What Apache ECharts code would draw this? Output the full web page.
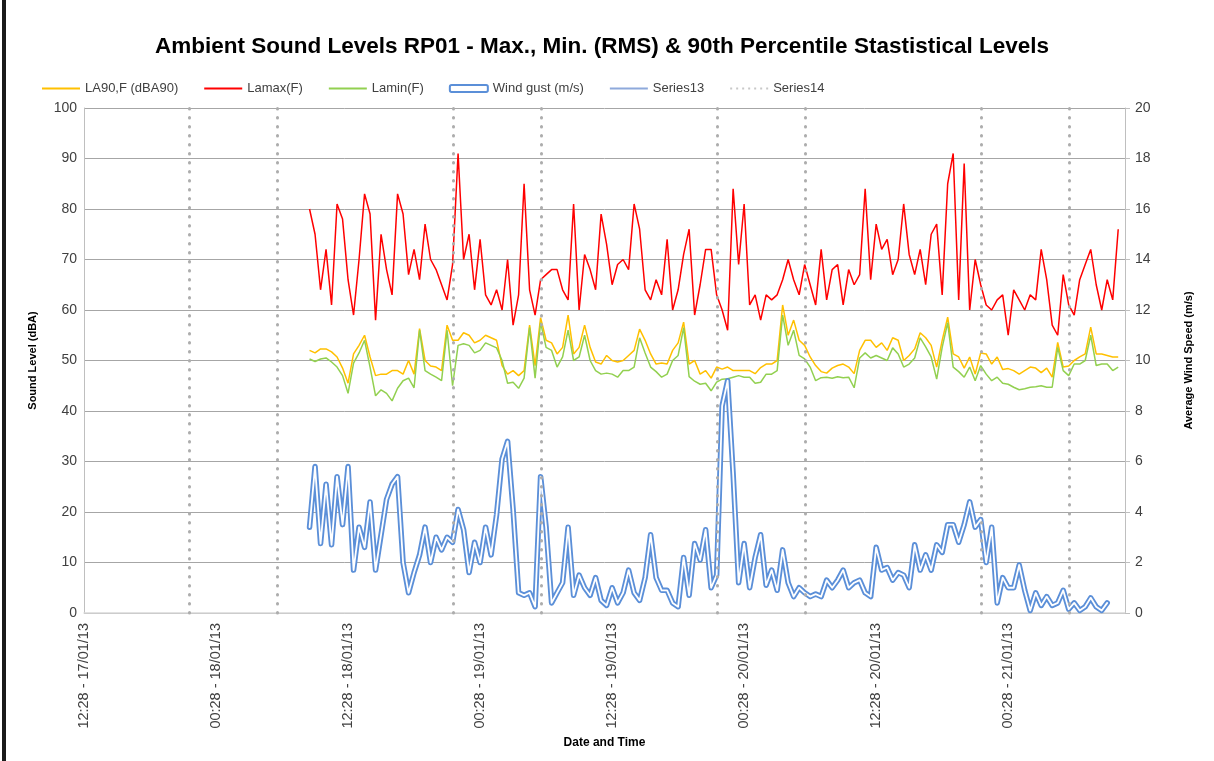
<!DOCTYPE html>
<html>
<head>
<meta charset="utf-8">
<title>Ambient Sound Levels RP01</title>
<script src="https://cdn.jsdelivr.net/npm/echarts@6/dist/echarts.min.js"></script>
<style>
html,body{margin:0;padding:0;background:#fff;}
#main{width:1214px;height:761px;}
</style>
</head>
<body>
<div id="main"></div>
<script>
/********************* 数据 *********************/
var HOUR = 3600000;
var axisStart = Date.UTC(2013, 0, 17, 12, 28);   // 12:28 - 17/01/13
var axisEnd = Date.UTC(2013, 0, 21, 11, 5);
var firstSample = Date.UTC(2013, 0, 18, 8, 58);   // half-hour samples from here
var sampleStep = 0.5 * HOUR;

// LA90,F (dBA90)
var la90 = [52,51.5,52.3,52.3,51.7,50.7,48.5,45.5,51.3,53,55,50.7,47,47.3,47.3,48,48,47.3,50,47.3,56.3,50,48.9,48.7,48,57,54,54,55.5,55,53.5,54,55,54.5,54,49,47.3,
	48,47,48,57,49,58.5,54,53.5,51.3,52.6,59,51.3,52.6,57,52.6,49.7,49.3,51,50,49.7,50,51,52,56.2,54,51.3,49.3,49.5,49.3,52,53.5,57.6,49.3,50,47.3,
	48,46.5,48.7,48.3,48.7,48,48,48,48,47.4,48.6,49.3,49.3,50,61,55,58,54,53,50.7,49,47.8,47.5,48.5,49,49.3,48.7,47.4,52,54,54,52.6,53.5,52,54.5,54,
	50,51,52.3,55.5,54.5,53,48.7,54,58.6,51.3,50.7,48.5,50.7,47.3,51.5,51.3,49.3,50.7,48.2,48.4,48,47.3,48,48.7,48.5,47.6,48.5,46.7,53.6,48.7,48.9,50,50.7,51.3,56.6,51.3,51.3,51,50.7,50.7];

// Lamax(F)
var lamax = [80,75,64,72,61,81,78,66,59,70,83,79,58,75,68,63,83,79,67,72,66,77,70,68,65,62,69,91,70,75,64,74,63,61,64,60,70,
	57,63,85,64,59,66,67,68,68,64,62,81,60,71,68,64,79,73,65,69,70,68,81,76,64,62,66,63,74,60,64,71,76,59,65,
	72,72,63,60,56,84,69,81,61,63,58,63,62,63,66,70,66,63,69,65,61,72,62,68,69,61,68,65,67,84,66,77,72,74,67,70,
	81,71,67,72,65,75,77,63,85,91,62,89,60,70,65,61,60,62,63,55,64,62,60,63,62,72,66,57,55,67,61,59,66,69,72,65,60,66,62,76];

// Lamin(F)
var lamin = [50.3,49.8,50.3,50.5,49.7,48.7,47,43.5,49.5,51.5,54,48.7,43,44.2,43.5,42,44.5,46,46.5,44.6,56,48,47.3,46.7,46,56,45,53,53.3,53,51.5,52,53.5,53,52.5,50,45.5,
	45.7,44.5,46.5,56.5,46.5,57.5,52.6,52,48.7,50.7,56,50,50.7,55,50,48,47.3,47.5,47.3,46.7,48,48,48.7,54.5,51.5,48.7,47.8,46.7,47.3,50,51,56.5,46.8,45.9,45.3,
	45.5,44,45.7,46.3,46.4,46.7,47,46.7,46.7,45.5,45.7,47.3,47.3,48,59,53,56,51,50.3,48.7,46,46.6,46.7,46.5,46.8,46.6,46.7,44.6,50.5,51.5,50.5,51,50.5,50,52.5,51.3,
	48.7,49.3,50.5,54.5,52.7,50.7,46.3,52.6,57.5,48.7,47.8,46.7,48.7,46,49,47.3,46,46.7,45.5,45.3,44.7,44.2,44.4,44.7,44.8,45,44.7,44.7,52.6,48,47,49.3,49.3,50,55,49,49.3,49.3,48,48.7];

// Wind gust (m/s)
var windGust = [3.4,5.8,2.75,5.1,2.7,5.4,3.5,5.8,1.7,3.4,2.6,4.4,1.7,3.1,4.5,5.1,5.4,2.0,0.8,1.6,2.3,3.4,2.0,3.0,2.5,3.0,2.8,4.1,3.3,1.6,2.8,2.0,3.4,2.3,3.9,6.1,6.8,
	4.1,0.8,0.7,0.8,0.25,5.4,3.4,0.4,0.8,1.2,3.4,0.7,1.5,1.0,0.7,1.4,0.5,0.3,1.0,0.4,0.8,1.7,0.8,0.5,1.4,3.1,1.4,0.9,0.9,0.4,0.25,2.2,0.7,2.75,2.1,
	3.3,1.0,1.5,8.2,9.2,5.5,1.2,2.75,1.0,2.2,3.1,1.1,1.7,0.9,2.5,1.2,0.65,1.0,0.8,0.65,0.75,0.65,1.3,1.0,1.3,1.7,1.0,1.2,1.3,0.8,0.65,2.6,1.7,1.8,1.3,1.6,
	1.5,1.0,2.7,1.7,2.3,1.7,2.7,2.4,3.5,3.5,2.8,3.5,4.4,3.4,3.7,2.0,3.4,0.4,1.4,1.0,1.0,1.9,0.9,0.1,0.8,0.3,0.65,0.3,0.4,0.9,0.15,0.4,0.1,0.25,0.6,0.25,0.1,0.4];

// Series14 - night time markers (22:00 / 06:00)
var nightLines = [
	Date.UTC(2013, 0, 17, 22, 0), Date.UTC(2013, 0, 18, 6, 0),
	Date.UTC(2013, 0, 18, 22, 0), Date.UTC(2013, 0, 19, 6, 0),
	Date.UTC(2013, 0, 19, 22, 0), Date.UTC(2013, 0, 20, 6, 0),
	Date.UTC(2013, 0, 20, 22, 0), Date.UTC(2013, 0, 21, 6, 0)
];

/********************* 图表 *********************/
function pad(n){ return ('0' + n).slice(-2); }
function fmtTime(v){
	var d = new Date(v);
	return pad(d.getUTCHours()) + ':' + pad(d.getUTCMinutes()) + ' - ' +
		pad(d.getUTCDate()) + '/' + pad(d.getUTCMonth() + 1) + '/' + String(d.getUTCFullYear()).slice(2);
}
function pairs(arr){
	var res = [];
	for (var i = 0; i < arr.length; i++) {
		res.push([firstSample + i * sampleStep, arr[i]]);
	}
	return res;
}

var FONT = '"Liberation Sans", Arial, sans-serif';
var windColor = '#5B8FD8';
var labelColor = '#404040';

var myChart = echarts.init(document.getElementById('main'));
var option = {
	backgroundColor: '#fff',
	animation: false,
	graphic: [
		// dark frame edge on the left of the screenshot
		{type: 'rect', left: 2, top: 0, shape: {width: 4, height: 761}, style: {fill: '#1a1a1a'}, silent: true}
	],
	title: {
		text: 'Ambient Sound Levels RP01 - Max., Min. (RMS) & 90th Percentile Stastistical Levels',
		left: 150,
		top: 30,
		textStyle: {fontFamily: FONT, fontSize: 22.5, fontWeight: 'bold', color: '#000'}
	},
	legend: {
		left: 36,
		top: 77,
		itemWidth: 38,
		itemHeight: 7,
		itemGap: 25,
		textStyle: {fontFamily: FONT, fontSize: 13, color: labelColor},
		itemStyle: {opacity: 0},
		data: [
			'LA90,F (dBA90)', 'Lamax(F)', 'Lamin(F)',
			{name: 'Wind gust (m/s)', icon: 'roundRect', itemStyle: {opacity: 1, color: '#fff', borderColor: windColor, borderWidth: 2}},
			'Series13', 'Series14'
		]
	},
	grid: {left: 84, right: 89, top: 108, bottom: 148},
	xAxis: {
		type: 'value',
		min: axisStart,
		max: axisEnd,
		interval: 12 * HOUR,
		name: 'Date and Time',
		nameLocation: 'middle',
		nameGap: 122,
		nameTextStyle: {fontFamily: FONT, fontSize: 12, fontWeight: 'bold', color: '#000'},
		axisLine: {lineStyle: {color: '#D9D9D9', width: 1.5}},
		axisTick: {show: false},
		splitLine: {show: false},
		axisLabel: {
			rotate: 90,
			margin: 10,
			showMaxLabel: false,
			fontFamily: FONT, fontSize: 14.5, color: labelColor,
			formatter: fmtTime
		}
	},
	yAxis: [
		{
			type: 'value', min: 0, max: 100, interval: 10,
			name: 'Sound Level (dBA)',
			nameLocation: 'middle', nameRotate: 90, nameGap: 46,
			nameTextStyle: {fontFamily: FONT, fontSize: 11, fontWeight: 'bold', color: '#000'},
			axisLine: {show: true, lineStyle: {color: '#BFBFBF'}},
			axisTick: {show: false},
			axisLabel: {fontFamily: FONT, fontSize: 14, color: labelColor, margin: 7},
			splitLine: {lineStyle: {color: '#A6A6A6', width: 1}}
		},
		{
			type: 'value', min: 0, max: 20, interval: 2,
			name: 'Average Wind Speed (m/s)',
			nameLocation: 'middle', nameRotate: 90, nameGap: 58,
			nameTextStyle: {fontFamily: FONT, fontSize: 11, fontWeight: 'bold', color: '#000'},
			axisLine: {show: true, lineStyle: {color: '#BFBFBF'}},
			axisTick: {show: true, length: 5, lineStyle: {color: '#BFBFBF'}},
			axisLabel: {fontFamily: FONT, fontSize: 14, color: labelColor, margin: 10},
			splitLine: {show: false}
		}
	],
	series: [
		{
			name: 'LA90,F (dBA90)', type: 'line', showSymbol: false, symbol: 'none',
			color: '#FFC000', lineStyle: {width: 1.5, color: '#FFC000'},
			data: pairs(la90)
		},
		{
			name: 'Lamax(F)', type: 'line', showSymbol: false, symbol: 'none',
			color: '#FF0000', lineStyle: {width: 1.5, color: '#FF0000'},
			data: pairs(lamax)
		},
		{
			name: 'Lamin(F)', type: 'line', showSymbol: false, symbol: 'none',
			color: '#92D050', lineStyle: {width: 1.5, color: '#92D050'},
			data: pairs(lamin)
		},
		{
			name: 'Wind gust (m/s)', type: 'line', yAxisIndex: 1, showSymbol: false, symbol: 'none',
			color: windColor, lineStyle: {width: 5.5, color: windColor, join: 'round', cap: 'round'},
			data: pairs(windGust)
		},
		{
			// white core of the double line
			name: 'Wind gust core', type: 'line', yAxisIndex: 1, showSymbol: false, symbol: 'none', silent: true,
			color: '#fff', lineStyle: {width: 1.8, color: '#fff', join: 'round', cap: 'round'},
			data: pairs(windGust)
		},
		{
			name: 'Series13', type: 'line', yAxisIndex: 1, symbol: 'none',
			color: '#8EA9DB', lineStyle: {width: 3, color: '#8EA9DB'},
			data: []
		},
		{
			name: 'Series14', type: 'line', symbol: 'none',
			color: '#BFBFBF', lineStyle: {width: 2, color: '#C8C8C8', type: [2, 4]},
			data: [],
			markLine: {
				silent: true,
				symbol: ['none', 'none'],
				label: {show: false},
				lineStyle: {color: '#ADADAD', width: 3, type: [0.5, 8.5], cap: 'round'},
				data: nightLines.map(function(t){ return {xAxis: t}; })
			}
		}
	]
};
myChart.setOption(option);
</script>
</body>
</html>
